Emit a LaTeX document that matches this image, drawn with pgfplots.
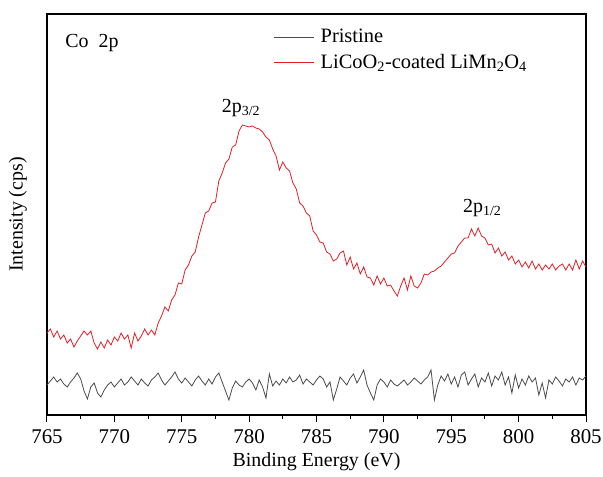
\documentclass[border=0pt]{standalone}
\usepackage{fontspec}
\setmainfont{Liberation Serif}
\usepackage{pgfplots}
\pgfplotsset{compat=1.18}

\definecolor{redline}{RGB}{228,30,38}
\definecolor{greyline}{RGB}{75,75,75}

\begin{document}
\begin{tikzpicture}[font=\fontsize{20}{24}\selectfont]
\path[use as bounding box] (-47bp,-62bp) rectangle (556bp,415bp);
\begin{axis}[
    at={(0,0)}, anchor=south west,
    scale only axis,
    width=539bp, height=401bp,
    xmin=765, xmax=805,
    ymin=0, ymax=401,
    xtick={765,770,...,805},
    minor x tick num=1,
    ytick=\empty,
    xtick pos=bottom,
    tick align=outside,
    major tick length=7bp,
    minor tick length=4bp,
    axis line style={line width=1.3bp},
    every tick/.style={line width=1bp, black},
    xticklabel style={font=\fontsize{21}{24}\selectfont, yshift=-4bp},
    /pgf/number format/assume math mode=true,
    /pgf/number format/1000 sep={},
    xlabel={Binding Energy (eV)},
    ylabel={Intensity (cps)},
    xlabel style={at={(axis description cs:0.5,-0.117)}, anchor=center},
    ylabel style={at={(axis description cs:-0.054,0.5)}, anchor=center},
    legend style={at={(rel axis cs:0.415,0.972)}, anchor=north west,
        draw=none, fill=none, row sep=6bp,
        /tikz/every odd column/.append style={column sep=4bp},
        font=\fontsize{20.5}{24}\selectfont},
    legend cell align=left,
    legend image code/.code={\draw[#1] (0bp,0bp) -- (40bp,0bp);},
]
% pristine
\addplot[greyline, line width=0.8bp] coordinates {
(765.00,30) (765.25,34) (765.50,38) (765.75,33)
(766.00,36) (766.25,31) (766.50,28) (766.75,33)
(767.00,37) (767.25,42) (767.50,36) (767.75,24)
(768.00,16) (768.25,28) (768.50,32) (768.75,22)
(769.00,18) (769.25,25) (769.50,30) (769.75,33)
(770.00,28) (770.25,32) (770.50,36) (770.75,30)
(771.00,33) (771.25,38) (771.50,34) (771.75,30)
(772.00,36) (772.25,32) (772.50,29) (772.75,35)
(773.00,38) (773.25,42) (773.50,35) (773.75,30)
(774.00,34) (774.25,38) (774.50,43) (774.75,36)
(775.00,32) (775.25,37) (775.50,33) (775.75,29)
(776.00,35) (776.25,39) (776.50,34) (776.75,30)
(777.00,36) (777.25,31) (777.50,38) (777.75,42)
(778.00,33) (778.25,24) (778.50,15) (778.75,27)
(779.00,34) (779.25,30) (779.50,28) (779.75,33)
(780.00,36) (780.25,32) (780.50,25) (780.75,35)
(781.00,28) (781.25,17) (781.50,41) (781.75,29)
(782.00,34) (782.25,30) (782.50,36) (782.75,32)
(783.00,38) (783.25,33) (783.50,35) (783.75,40)
(784.00,31) (784.25,36) (784.50,33) (784.75,30)
(785.00,35) (785.25,39) (785.50,36) (785.75,28)
(786.00,33) (786.25,15) (786.50,26) (786.75,38)
(787.00,34) (787.25,30) (787.50,37) (787.75,41)
(788.00,32) (788.25,38) (788.50,45) (788.75,30)
(789.00,22) (789.25,15) (789.50,30) (789.75,36)
(790.00,33) (790.25,28) (790.50,35) (790.75,31)
(791.00,29) (791.25,32) (791.50,35) (791.75,30)
(792.00,33) (792.25,37) (792.50,34) (792.75,31)
(793.00,35) (793.25,38) (793.50,45) (793.75,15)
(794.00,30) (794.25,39) (794.50,34) (794.75,41)
(795.00,31) (795.25,38) (795.50,28) (795.75,40)
(796.00,43) (796.25,30) (796.50,36) (796.75,41)
(797.00,28) (797.25,37) (797.50,33) (797.75,42)
(798.00,29) (798.25,39) (798.50,35) (798.75,43)
(799.00,30) (799.25,38) (799.50,22) (799.75,40)
(800.00,27) (800.25,36) (800.50,30) (800.75,39)
(801.00,33) (801.25,37) (801.50,20) (801.75,32)
(802.00,17) (802.25,35) (802.50,31) (802.75,38)
(803.00,34) (803.25,29) (803.50,36) (803.75,33)
(804.00,38) (804.25,30) (804.50,37) (804.75,35)
(805.00,39)
};
\addlegendentry{Pristine}
% LiCoO2-coated
\addplot[redline, line width=0.8bp] coordinates {
(765.00,82) (765.25,86) (765.50,78) (765.75,84)
(766.00,76) (766.25,80) (766.50,72) (766.75,76)
(767.00,68) (767.25,74) (767.50,79) (767.75,84)
(768.00,80) (768.25,84) (768.50,72) (768.75,66)
(769.00,73) (769.25,67) (769.50,75) (769.75,70)
(770.00,78) (770.25,74) (770.50,82) (770.75,76)
(771.00,80) (771.25,67) (771.50,82) (771.75,74)
(772.00,79) (772.25,86) (772.50,80) (772.75,85)
(773.00,80) (773.25,92) (773.50,99) (773.75,108)
(774.00,104) (774.25,115) (774.50,120) (774.75,132)
(775.00,131) (775.25,145) (775.50,150) (775.75,159)
(776.00,163) (776.25,178) (776.50,190) (776.75,202)
(777.00,204) (777.25,212) (777.50,213) (777.75,234)
(778.00,242) (778.25,252) (778.50,256) (778.75,268)
(779.00,270) (779.25,284) (779.50,290) (779.75,289)
(780.00,288) (780.25,289) (780.50,287) (780.75,286)
(781.00,283) (781.25,278) (781.50,275) (781.75,266)
(782.00,259) (782.25,245) (782.50,253) (782.75,247)
(783.00,244) (783.25,232) (783.50,226) (783.75,212)
(784.00,209) (784.25,202) (784.50,199) (784.75,184)
(785.00,180) (785.25,173) (785.50,172) (785.75,163)
(786.00,161) (786.25,154) (786.50,156) (786.75,162)
(787.00,164) (787.25,150) (787.50,158) (787.75,146)
(788.00,152) (788.25,141) (788.50,148) (788.75,138)
(789.00,137) (789.25,130) (789.50,139) (789.75,131)
(790.00,137) (790.25,129) (790.50,130) (790.75,124)
(791.00,119) (791.25,129) (791.50,137) (791.75,125)
(792.00,139) (792.25,129) (792.50,127) (792.75,132)
(793.00,141) (793.25,140) (793.50,143) (793.75,144)
(794.00,147) (794.25,149) (794.50,153) (794.75,157)
(795.00,161) (795.25,162) (795.50,169) (795.75,173)
(796.00,177) (796.25,177) (796.50,186) (796.75,179)
(797.00,187) (797.25,179) (797.50,177) (797.75,170)
(798.00,171) (798.25,162) (798.50,167) (798.75,159)
(799.00,163) (799.25,155) (799.50,159) (799.75,151)
(800.00,155) (800.25,148) (800.50,153) (800.75,147)
(801.00,154) (801.25,146) (801.50,151) (801.75,145)
(802.00,150) (802.25,146) (802.50,151) (802.75,145)
(803.00,149) (803.25,151) (803.50,145) (803.75,151)
(804.00,145) (804.25,155) (804.50,146) (804.75,154)
(805.00,148)
};
\addlegendentry{LiCoO\textsubscript{2}-coated LiMn\textsubscript{2}O\textsubscript{4}}
\node[anchor=west] at (axis cs:766.1,372) {Co\ \ 2p};
\node at (axis cs:779.4,307) {2p\textsubscript{3/2}};
\node at (axis cs:797.3,207) {2p\textsubscript{1/2}};
\end{axis}
\end{tikzpicture}
\end{document}
